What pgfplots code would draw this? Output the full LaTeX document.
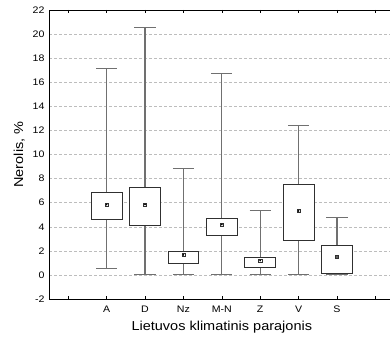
\documentclass[border=0pt]{standalone}
\usepackage{pgfplots}
\pgfplotsset{compat=1.18}
\usepgfplotslibrary{statistics}
\usepackage{fontspec}
\setmainfont[FakeStretch=1.12]{Liberation Sans}

\definecolor{whisk}{HTML}{707070}
\definecolor{boxc}{HTML}{303030}
\definecolor{gridc}{HTML}{BDBDBD}

\pgfplotsset{
  bx/.style={
    boxplot prepared={#1},
    boxplot/draw direction=y,
    solid, draw=boxc, line width=0.7pt,
    boxplot/box extend=0.8,
    boxplot/whisker extend=0.55,
    boxplot/every whisker/.style={draw=whisk, line width=1.1pt},
    boxplot/every box/.style={draw=boxc, fill=white, line width=0.7pt},
    boxplot/every median/.style={draw=none},
  },
}

\begin{document}
\begin{tikzpicture}
\begin{axis}[
  scale only axis,
  width=345.6bp, height=289bp,
  xmin=-0.5, xmax=8.5,
  ymin=-2, ymax=22,
  xtick={0,1,2,3,4,5,6,7,8},
  xticklabels={,A,D,Nz,M-N,Z,V,S,},
  ytick={-2,0,2,4,6,8,10,12,14,16,18,20,22},
  tick align=inside,
  major tick length=3bp,
  ytick style={draw=none},
  xtick style={black, line width=0.5pt},
  axis x line*=box,
  axis y line*=left,
  axis line style={black, line width=0.8pt},
  ymajorgrids,
  major grid style={gridc, dash pattern=on 3bp off 2bp, line width=0.5pt},
  tick label style={font=\fontsize{9.5}{11}\selectfont},
  /pgf/number format/assume math mode=true,
  xticklabel style={yshift=-3bp},
  yticklabel style={xshift=-1bp},
  xlabel={Lietuvos klimatinis parajonis},
  ylabel={Nerolis, \%},
  label style={font=\fontsize{13}{15}\selectfont},
  xlabel style={yshift=-2bp},
  ylabel style={yshift=1bp},
  clip=false,
]
% whisker low, Q1, median, Q3, whisker high
\addplot[bx={draw position=1, lower whisker=0.5, lower quartile=4.6,
  median=5.84, upper quartile=6.86, upper whisker=17.15}] coordinates {};
\addplot[bx={draw position=2, lower whisker=0, lower quartile=4.12,
  median=5.84, upper quartile=7.31, upper whisker=20.58}] coordinates {};
\addplot[bx={draw position=3, lower whisker=0, lower quartile=1.0,
  median=1.66, upper quartile=1.96, upper whisker=8.8}] coordinates {};
\addplot[bx={draw position=4, lower whisker=0, lower quartile=3.26,
  median=4.18, upper quartile=4.73, upper whisker=16.7}] coordinates {};
\addplot[bx={draw position=5, lower whisker=0, lower quartile=0.66,
  median=1.19, upper quartile=1.46, upper whisker=5.34}] coordinates {};
\addplot[bx={draw position=6, lower whisker=0, lower quartile=2.85,
  median=5.31, upper quartile=7.5, upper whisker=12.4}] coordinates {};
\addplot[bx={draw position=7, lower whisker=0, lower quartile=0.1,
  median=1.49, upper quartile=2.43, upper whisker=4.76}] coordinates {};
% central value markers
\addplot[only marks, mark=square*, mark size=1.6bp,
  mark options={solid, draw=boxc, fill=white, line width=0.4pt}]
  coordinates {(1,5.84) (2,5.84) (3,1.66) (4,4.18) (5,1.19) (6,5.31) (7,1.49)};
\addplot[only marks, mark=*, mark size=0.6bp, mark options={solid, fill=black, draw=black}]
  coordinates {(1,5.84) (2,5.84) (3,1.66) (4,4.18) (5,1.19) (6,5.31) (7,1.49)};
\end{axis}
\pgfresetboundingbox
\useasboundingbox ([shift={(-49bp,-41bp)}]current axis.south west)
  rectangle ([shift={(341bp,299bp)}]current axis.south west);
\end{tikzpicture}
\end{document}
